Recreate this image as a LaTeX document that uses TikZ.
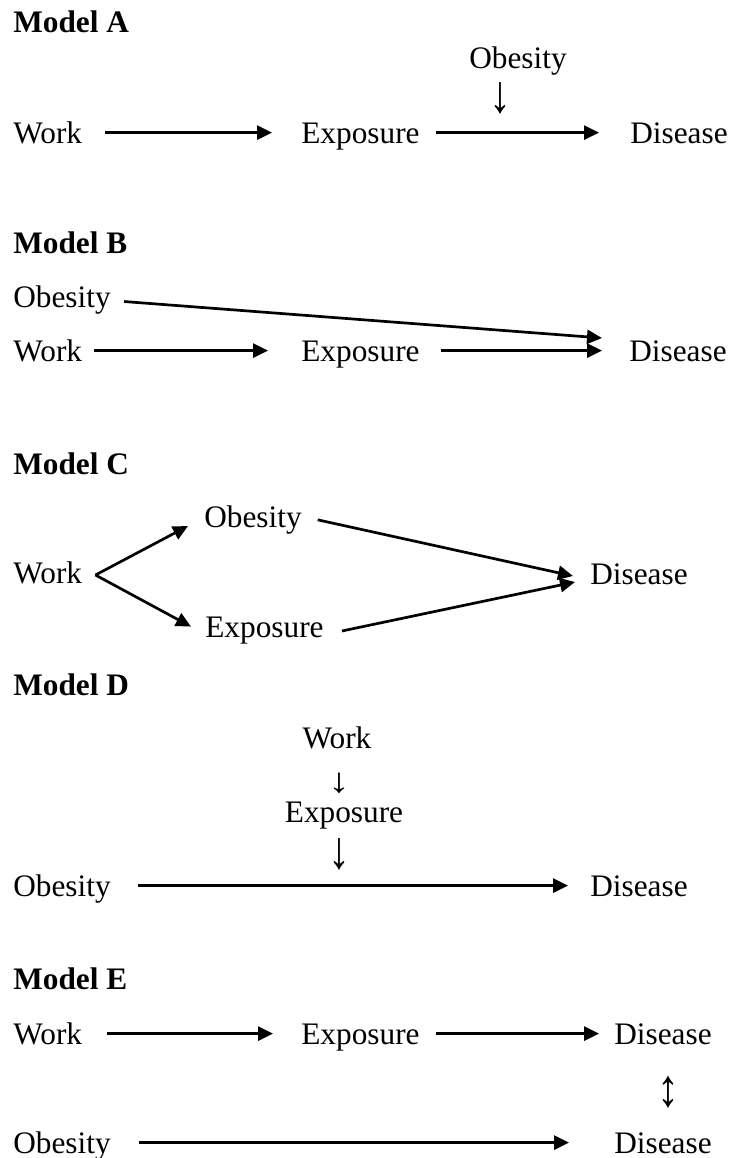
\documentclass[tikz,border=0pt]{standalone}
\usepackage{fontspec}
\setmainfont{Liberation Serif}
\usetikzlibrary{arrows.meta}

\begin{document}
\begin{tikzpicture}[x=0.5pt,y=-0.5pt,->,>={Triangle[length=7.5pt,width=7pt]},line width=1.35pt,
    txt/.style={inner sep=0pt,anchor=base west,text height=10.4pt,text depth=0pt,font=\fontsize{15.65pt}{18pt}\selectfont},
    head/.style={txt,font=\fontsize{15.65pt}{18pt}\selectfont\bfseries},
    sym/.style={inner sep=0pt,xscale=1.4,yscale=1.7,font=\fontsize{15.65pt}{18pt}\selectfont}]
    \useasboundingbox (0,0) rectangle (732,1158);

    % Model A
    \node[head] (ha) at (12,32) {Model A};
    \node[txt] (a1) at (12,143) {Work};
    \node[txt] (a2) at (300,143) {Exposure};
    \node[txt] (a3) at (629,143) {Disease};
    \node[txt] (a4) at (468,68) {Obesity};
    \node[sym] (a5) at (500,98) {↓};
    \path
        (a1.east) edge[shorten <=11pt,shorten >=14pt] (a2.west)
        (a2.east) edge[shorten <=7.5pt,shorten >=15pt] (a3.west)
        ;

    % Model B
    \node[head] (hb) at (12,253) {Model B};
    \node[txt] (b1) at (12,307) {Obesity};
    \node[txt] (b2) at (12,361) {Work};
    \node[txt] (b3) at (300,361) {Exposure};
    \node[txt] (b4) at (628,361) {Disease};
    \path
        (b2.east) edge[shorten <=5.5pt,shorten >=16pt] (b3.west)
        (b3.east) edge[shorten <=10pt,shorten >=13pt] (b4.west)
        ([yshift=-2pt]b1.east) edge[shorten <=6pt] ([shift={(-13pt,6.3pt)}]b4.west)
        ;

    % Model C
    \node[head] (hc) at (12,474) {Model C};
    \node[txt] (c1) at (12,583) {Work};
    \node[txt] (c2) at (203,527) {Obesity};
    \node[txt] (c3) at (204,637) {Exposure};
    \node[txt] (c4) at (589,584) {Disease};
    \path
        ([shift={(6pt,-1.2pt)}]c1.east) edge ([shift={(-7.5pt,-4.7pt)}]c2.west)
        ([shift={(6pt,-1.2pt)}]c1.east) edge ([shift={(-6.5pt,0pt)}]c3.west)
        (c2.east) edge[shorten <=7.5pt] ([shift={(-8pt,-1.2pt)}]c4.west)
        ([shift={(8.5pt,-2.2pt)}]c3.east) edge ([shift={(-7pt,-4.2pt)}]c4.west)
        ;

    % Model D
    \node[head] (hd) at (12,695) {Model D};
    \node[txt,anchor=base] (d1) at (337,748) {Work};
    \node[sym,yscale=.65] (d2) at (339,783) {↓};
    \node[txt,anchor=base] (d3) at (344,822) {Exposure};
    \node[sym] (d4) at (339,854) {↓};
    \node[txt] (d5) at (12,896) {Obesity};
    \node[txt] (d6) at (589,896) {Disease};
    \path
        (d5.east) edge[shorten <=13pt,shorten >=10.5pt] (d6.west)
        ;

    % Model E
    \node[head] (he) at (12,989) {Model E};
    \node[txt] (e1) at (12,1044) {Work};
    \node[txt] (e2) at (300,1044) {Exposure};
    \node[txt] (e3) at (613,1044) {Disease};
    \node[sym] (e4) at (668,1092) {↕};
    \node[txt] (e5) at (12,1153) {Obesity};
    \node[txt] (e6) at (613,1153) {Disease};
    \path
        (e1.east) edge[shorten <=12pt,shorten >=13.5pt] (e2.west)
        (e2.east) edge[shorten <=7.5pt,shorten >=7pt] (e3.west)
        (e5.east) edge[shorten <=13.5pt,shorten >=22pt] (e6.west)
        ;
\end{tikzpicture}
\end{document}
